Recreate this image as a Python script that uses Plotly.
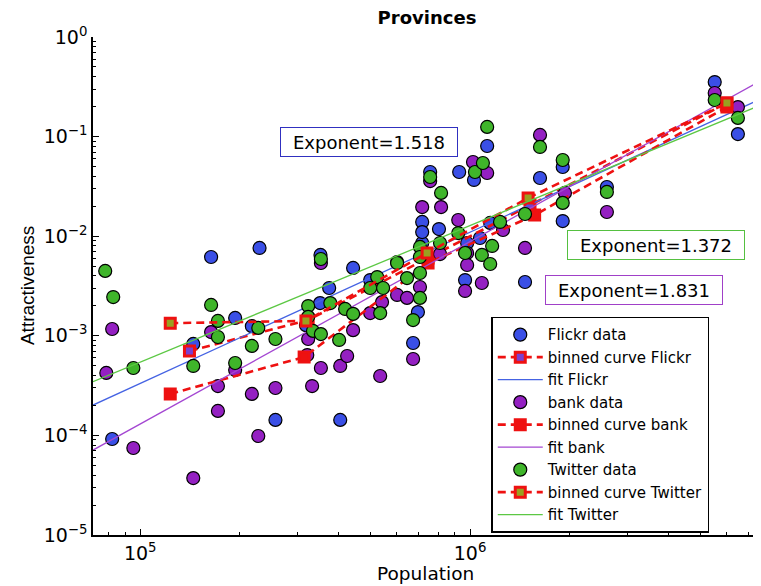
import numpy as np
import plotly.graph_objects as go

# ---------------- data ----------------
flickr_pop = [8.22e4, 1.448e5, 1.64e5, 1.94e5, 2.18e5, 2.30e5, 2.57e5, 3.52e5, 3.74e5, 3.51e5,
              3.18e5, 4.04e5, 4.42e5, 4.98e5, 6.95e5, 6.72e5, 7.16e5, 7.16e5, 7.16e5, 7.57e5,
              8.05e5, 9.27e5, 1.028e6, 1.127e6, 9.80e5, 9.66e5, 1.072e6, 1.151e6, 1.63e6, 1.91e6,
              1.91e6, 1.468e6, 2.60e6, 5.52e6, 6.49e6]
flickr_val = [9.2e-5, 8.28e-4, 6.18e-3, 1.51e-3, 1.25e-3, 7.62e-3, 1.43e-4, 6.48e-3, 3.02e-3, 2.13e-3,
              1.28e-3, 1.43e-4, 4.8e-3, 3.63e-3, 1.73e-3, 8.47e-4, 8.55e-3, 1.39e-2, 1.10e-2, 4.41e-2,
              1.18e-2, 4.41e-2, 3.67e-2, 8.05e-2, 8.55e-3, 3.63e-3, 9.59e-3, 1.36e-2, 3.84e-2, 4.95e-2,
              1.42e-2, 3.47e-3, 3.12e-2, 0.353, 0.106]

bank_pop = [8.22e4, 7.89e4, 9.53e4, 1.448e5, 1.64e5, 1.94e5, 1.72e5, 1.72e5, 2.18e5, 2.57e5,
            2.28e5, 3.53e5, 3.23e5, 3.21e5, 3.53e5, 3.32e5, 4.04e5, 4.24e5, 4.42e5, 5.34e5,
            4.98e5, 5.41e5, 6.01e5, 6.44e5, 7.05e5, 6.72e5, 7.16e5, 7.57e5, 8.17e5, 8.11e5,
            9.21e5, 9.80e5, 9.80e5, 9.66e5, 1.086e6, 1.259e6, 1.021e6, 1.127e6, 1.63e6, 1.468e6,
            1.94e6, 2.60e6, 5.52e6, 6.49e6, 6.01e5]
bank_val = [1.17e-3, 4.24e-4, 7.47e-5, 3.73e-5, 1.09e-3, 4.54e-4, 3.13e-4, 1.76e-4, 2.61e-4, 2.99e-4,
            9.86e-5, 5.38e-3, 9.29e-4, 6.41e-4, 4.75e-4, 3.13e-4, 4.98e-4, 6.27e-4, 1.14e-3, 3.95e-4,
            1.69e-3, 2.18e-3, 2.57e-3, 2.40e-3, 3.09e-3, 5.85e-4, 1.96e-2, 3.58e-2, 1.96e-2, 6.62e-3,
            1.455e-2, 6.78e-3, 5.14e-3, 2.82e-3, 3.39e-3, 1.154e-2, 5.56e-2, 4.31e-2, 0.104, 7.62e-3,
            2.72e-2, 1.75e-2, 0.274, 0.198, 5.51e-3]

twitter_pop = [7.83e4, 8.28e4, 9.53e4, 1.448e5, 1.64e5, 1.72e5, 1.72e5, 1.94e5, 2.28e5, 2.18e5,
               2.57e5, 3.53e5, 3.23e5, 3.23e5, 3.77e5, 3.34e5, 3.53e5, 4.01e5, 4.18e5, 4.42e5,
               5.23e5, 4.98e5, 5.45e5, 5.34e5, 6.72e5, 7.05e5, 6.01e5, 6.44e5, 7.05e5, 7.05e5,
               7.05e5, 7.57e5, 8.17e5, 8.11e5, 9.21e5, 9.66e5, 1.086e6, 1.167e6, 1.151e6, 1.233e6,
               1.035e6, 1.094e6, 1.127e6, 1.63e6, 1.91e6, 1.468e6, 1.91e6, 2.60e6, 5.52e6, 6.49e6]
twitter_val = [4.48e-3, 2.45e-3, 4.75e-4, 4.98e-4, 2.04e-3, 1.41e-3, 9.73e-4, 5.33e-4, 1.20e-3, 7.91e-4,
               9.29e-4, 5.90e-3, 1.99e-3, 1.55e-3, 2.13e-3, 1.12e-3, 1.04e-3, 9.08e-4, 1.86e-3, 1.66e-3,
               3.89e-3, 3.02e-3, 3.02e-3, 1.69e-3, 1.44e-3, 2.40e-3, 5.38e-3, 3.80e-3, 4.27e-3, 7.80e-3,
               6.18e-3, 3.93e-2, 2.72e-2, 8.55e-3, 1.076e-2, 6.78e-3, 6.48e-3, 7.98e-3, 5.26e-3, 1.39e-2,
               4.41e-2, 5.43e-2, 0.125, 7.87e-2, 5.82e-2, 1.67e-2, 2.16e-2, 2.78e-2, 0.233, 0.154]

# binned curves
flickr_bin_pop = [1.41e5, 3.23e5, 7.46e5, 1.52e6, 6.01e6]
flickr_bin_val = [7.04e-4, 1.44e-3, 6.04e-3, 2.06e-2, 0.217]
bank_bin_pop = [1.233e5, 3.14e5, 7.46e5, 1.57e6, 6.01e6]
bank_bin_val = [2.61e-4, 6.12e-4, 5.38e-3, 1.63e-2, 0.198]
twitter_bin_pop = [1.233e5, 3.18e5, 7.41e5, 1.50e6, 6.01e6]
twitter_bin_val = [1.34e-3, 1.41e-3, 6.78e-3, 2.42e-2, 0.217]

# power-law fits: y = prefactor * x ** exponent
fit_exponent = {"Flickr": 1.518, "bank": 1.831, "Twitter": 1.372}
fit_prefactor = {"Flickr": 8.55e-12, "bank": 9.12e-14, "Twitter": 7.5e-11}
fit_range = [7.19e4, 7.52e6]

x_ticks = [1e5, 1e6]
x_tick_labels = ["10<sup>5</sup>", "10<sup>6</sup>"]
y_ticks = [1e-5, 1e-4, 1e-3, 1e-2, 1e-1, 1e0]
y_tick_labels = ["10<sup>\u22125</sup>", "10<sup>\u22124</sup>", "10<sup>\u22123</sup>",
                 "10<sup>\u22122</sup>", "10<sup>\u22121</sup>", "10<sup>0</sup>"]

# ---------------- styling ----------------
COL = {"Flickr": "#3a4fe6", "bank": "#9420c2", "Twitter": "#3fb52a"}
FITCOL = {"Flickr": "#4563e3", "bank": "#a447d2", "Twitter": "#5cc844"}
BINFACE = {"Flickr": "#7a3fd0", "bank": "#ee1111", "Twitter": "#9aa020"}
FONT = "DejaVu Sans, Verdana, sans-serif"
FONT_NARROW = "Liberation Sans, Arial, Helvetica, sans-serif"

series = [
    ("Flickr", flickr_pop, flickr_val, flickr_bin_pop, flickr_bin_val),
    ("bank", bank_pop, bank_val, bank_bin_pop, bank_bin_val),
    ("Twitter", twitter_pop, twitter_val, twitter_bin_pop, twitter_bin_val),
]

fig = go.Figure()
for name, px_, py_, bx, by in series:
    fig.add_trace(go.Scatter(
        x=px_, y=py_, mode="markers", name=f"{name} data",
        marker=dict(symbol="circle", size=13, color=COL[name],
                    line=dict(color="black", width=1.2))))
    fig.add_trace(go.Scatter(
        x=bx, y=by, mode="lines+markers", name=f"binned curve {name}",
        line=dict(color="#ee1111", width=2.6, dash="8px,5px"),
        marker=dict(symbol="square", size=10, color=BINFACE[name],
                    line=dict(color="#ee1111", width=3))))
    fx = np.array(fit_range)
    fy = fit_prefactor[name] * fx ** fit_exponent[name]
    fig.add_trace(go.Scatter(
        x=fx, y=fy, mode="lines", name=f"fit {name}",
        line=dict(color=FITCOL[name], width=1.3)))

minor_x = [m * 10 ** k for k in (4, 5, 6) for m in range(2, 10)]
minor_y = [m * 10 ** k for k in (-5, -4, -3, -2, -1) for m in range(2, 10)]

fig.update_xaxes(
    type="log", range=[np.log10(7.19e4), np.log10(7.52e6)],
    tickvals=x_ticks, ticktext=x_tick_labels,
    ticks="inside", ticklen=6, tickwidth=1.2, tickcolor="black",
    minor=dict(tickvals=minor_x, ticks="inside", ticklen=3, tickcolor="black", tickwidth=1),
    showline=True, linecolor="black", linewidth=1.5, showgrid=False, zeroline=False,
    tickfont=dict(family=FONT, size=19, color="black"),
)
fig.update_yaxes(
    type="log", range=[-5, 0],
    tickvals=y_ticks, ticktext=y_tick_labels,
    ticks="inside", ticklen=6, tickwidth=1.2, tickcolor="black",
    minor=dict(tickvals=minor_y, ticks="inside", ticklen=3, tickcolor="black", tickwidth=1),
    showline=True, linecolor="black", linewidth=1.5, showgrid=False, zeroline=False,
    tickfont=dict(family=FONT, size=19, color="black"),
)

# axis titles
fig.add_annotation(x=0.4985, y=-0.0783, xref="paper", yref="paper", xanchor="center",
                   yanchor="middle", showarrow=False, text="Population", borderpad=0,
                   font=dict(family=FONT, size=18.5, color="black"))
fig.add_annotation(x=-0.099, y=0.5, xref="paper", yref="paper", xanchor="center",
                   yanchor="middle", showarrow=False, text="Attractiveness", textangle=-90,
                   font=dict(family=FONT_NARROW, size=19, color="black"))

ann_common = dict(xref="paper", yref="paper", showarrow=False, bgcolor="white",
                  xanchor="center", yanchor="middle",
                  borderwidth=1, borderpad=2, width=172, height=24,
                  font=dict(family=FONT, size=18, color="black"))
fig.add_annotation(x=0.414, y=0.789, text="Exponent=1.518", bordercolor="#3030c0", **ann_common)
fig.add_annotation(x=0.8456, y=0.583, text="Exponent=1.372", bordercolor="#55c040", **ann_common)
fig.add_annotation(x=0.813, y=0.492, text="Exponent=1.831", bordercolor="#a040c8", **ann_common)

# the page body adds an 8px margin, so the figure is drawn 8px smaller
fig.update_layout(
    width=753, height=578,
    margin=dict(l=85, r=2, t=29, b=51),
    paper_bgcolor="white", plot_bgcolor="white",
    title=dict(text="<b>Provinces</b>", x=0.5564, xanchor="center", y=0.9836, yanchor="middle",
               font=dict(family=FONT, size=18, color="black")),
    legend=dict(x=0.598, y=0.438, xanchor="left", yanchor="top",
                bgcolor="white", bordercolor="black", borderwidth=1.5,
                font=dict(family=FONT, size=15, color="black"),
                tracegroupgap=0, itemwidth=45),
    showlegend=True,
)

fig.write_html("out.html")
